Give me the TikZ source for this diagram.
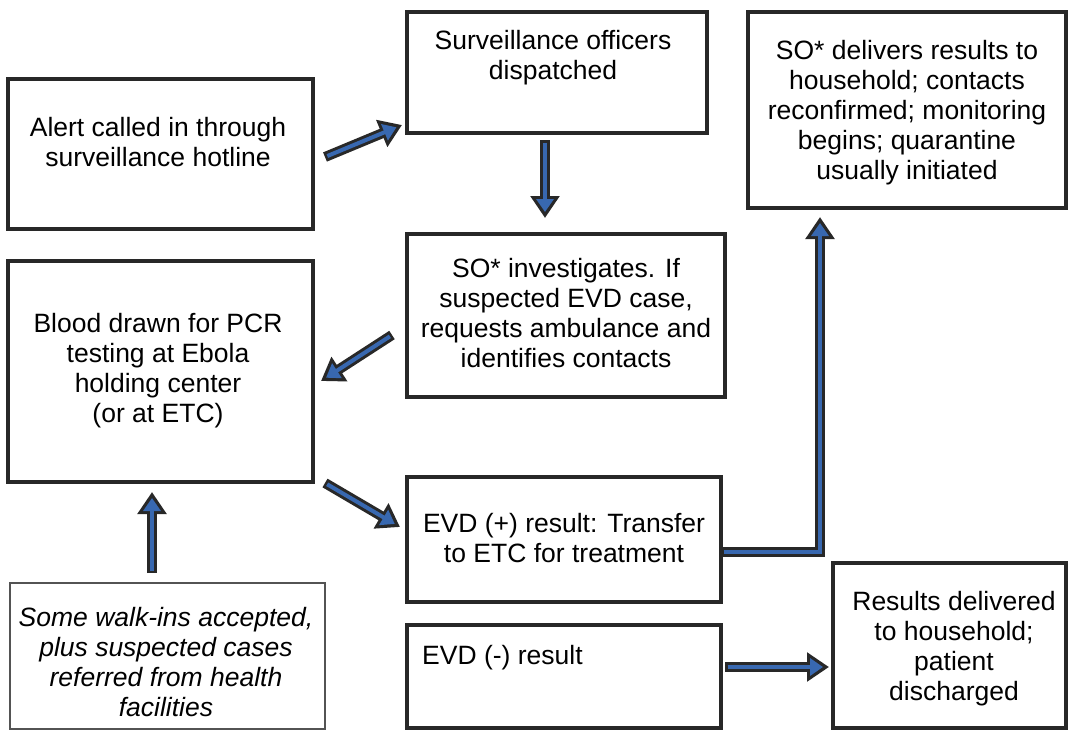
\documentclass[tikz,border=0pt]{standalone}
\usepackage{fontspec}
\setmainfont{Liberation Sans}
\usetikzlibrary{arrows.meta}
\definecolor{flowblue}{RGB}{56,104,176}
\definecolor{boxline}{RGB}{40,40,40}

\begin{document}
\begin{tikzpicture}[x=1pt, y=-1pt,
    box/.style={draw=boxline, line width=3.5pt, inner sep=0pt, outer sep=0pt},
    txt/.style={align=center, font=\fontsize{26.5}{30}\selectfont, inner sep=0pt},
    flow/.style={line width=10pt, draw=boxline, line join=miter,
      -{Triangle[length=22pt,width=28pt]},
      postaction={draw=flowblue, line width=4pt, -{Triangle[length=13pt,width=17pt]},
        shorten >=6pt, shorten <=2.5pt}}]
  \useasboundingbox (0,0) rectangle (1073,732);

  % Khung
  \node[box, minimum width=305pt, minimum height=150pt] (alert) at (160.5,154) {};
  \node[box, minimum width=300pt, minimum height=121pt] (dispatch) at (557,72.5) {};
  \node[box, minimum width=318pt, minimum height=196pt] (deliver) at (907,110) {};
  \node[box, minimum width=318pt, minimum height=163pt] (investigate) at (566,315.5) {};
  \node[box, minimum width=305pt, minimum height=221pt] (blood) at (160.5,371.5) {};
  \node[box, minimum width=314pt, minimum height=125pt] (positive) at (564,539.5) {};
  \node[box, minimum width=314pt, minimum height=103pt] (negative) at (564,676.5) {};
  \node[box, minimum width=233pt, minimum height=165pt] (discharge) at (949.5,645.5) {};
  \node[box, line width=2pt, draw=boxline!80, minimum width=315pt, minimum height=146pt] (walkin) at (167.5,656) {};

  % Chu
  \node[txt] (alert-t) at (158,142.5) {Alert called in through\\surveillance hotline};
  \node[txt] (dispatch-t) at (553,58) {Surveillance officers\\dispatched};
  \node[txt] (deliver-t) at (907,112.5) {SO* delivers results to\\household; contacts\\reconfirmed; monitoring\\begins; quarantine\\usually initiated};
  \node[txt] (investigate-t) at (566,313) {SO* investigates. If\\suspected EVD case,\\requests ambulance and\\identifies contacts};
  \node[txt] (blood-t) at (158,371) {Blood drawn for PCR\\testing at Ebola\\holding center\\(or at ETC)};
  \node[txt] (positive-t) at (564,538) {EVD (+) result: Transfer\\to ETC for treatment};
  \node[txt, anchor=west] (negative-t) at (422,658) {EVD (-) result};
  \node[txt] (discharge-t) at (954,649) {Results delivered\\to household;\\patient\\discharged};
  \node[txt, font=\fontsize{26.5}{30}\selectfont\itshape] (walkin-t) at (166,662.5) {Some walk-ins accepted,\\plus suspected cases\\referred from health\\facilities};

  % Mui ten
  \draw[flow] ([xshift=12pt,yshift=-3pt]alert.east) -- ([xshift=-5pt,yshift=8pt]dispatch.south west);
  \draw[flow] ([xshift=-12pt,yshift=-7pt]dispatch.south) -- ([xshift=-21pt,yshift=16pt]investigate.north);
  \draw[flow] ([xshift=-15pt,yshift=-19.5pt]investigate.west) -- ([xshift=8pt,yshift=-9.5pt]blood.east);
  \draw[flow] ([xshift=12pt,yshift=-1pt]blood.south east) -- ([xshift=-7pt,yshift=12.5pt]positive.west);
  \draw[flow] ([xshift=-15.5pt,yshift=10pt]walkin.north) -- ([xshift=-8.5pt,yshift=-10pt]blood.south);
  \draw[flow] ([yshift=-12.5pt]positive.east) -| ([xshift=-87pt,yshift=-9pt]deliver.south);
  \draw[flow] ([xshift=4pt,yshift=9.5pt]negative.east) -- ([xshift=-4pt,yshift=-21.5pt]discharge.west);
\end{tikzpicture}
\end{document}
